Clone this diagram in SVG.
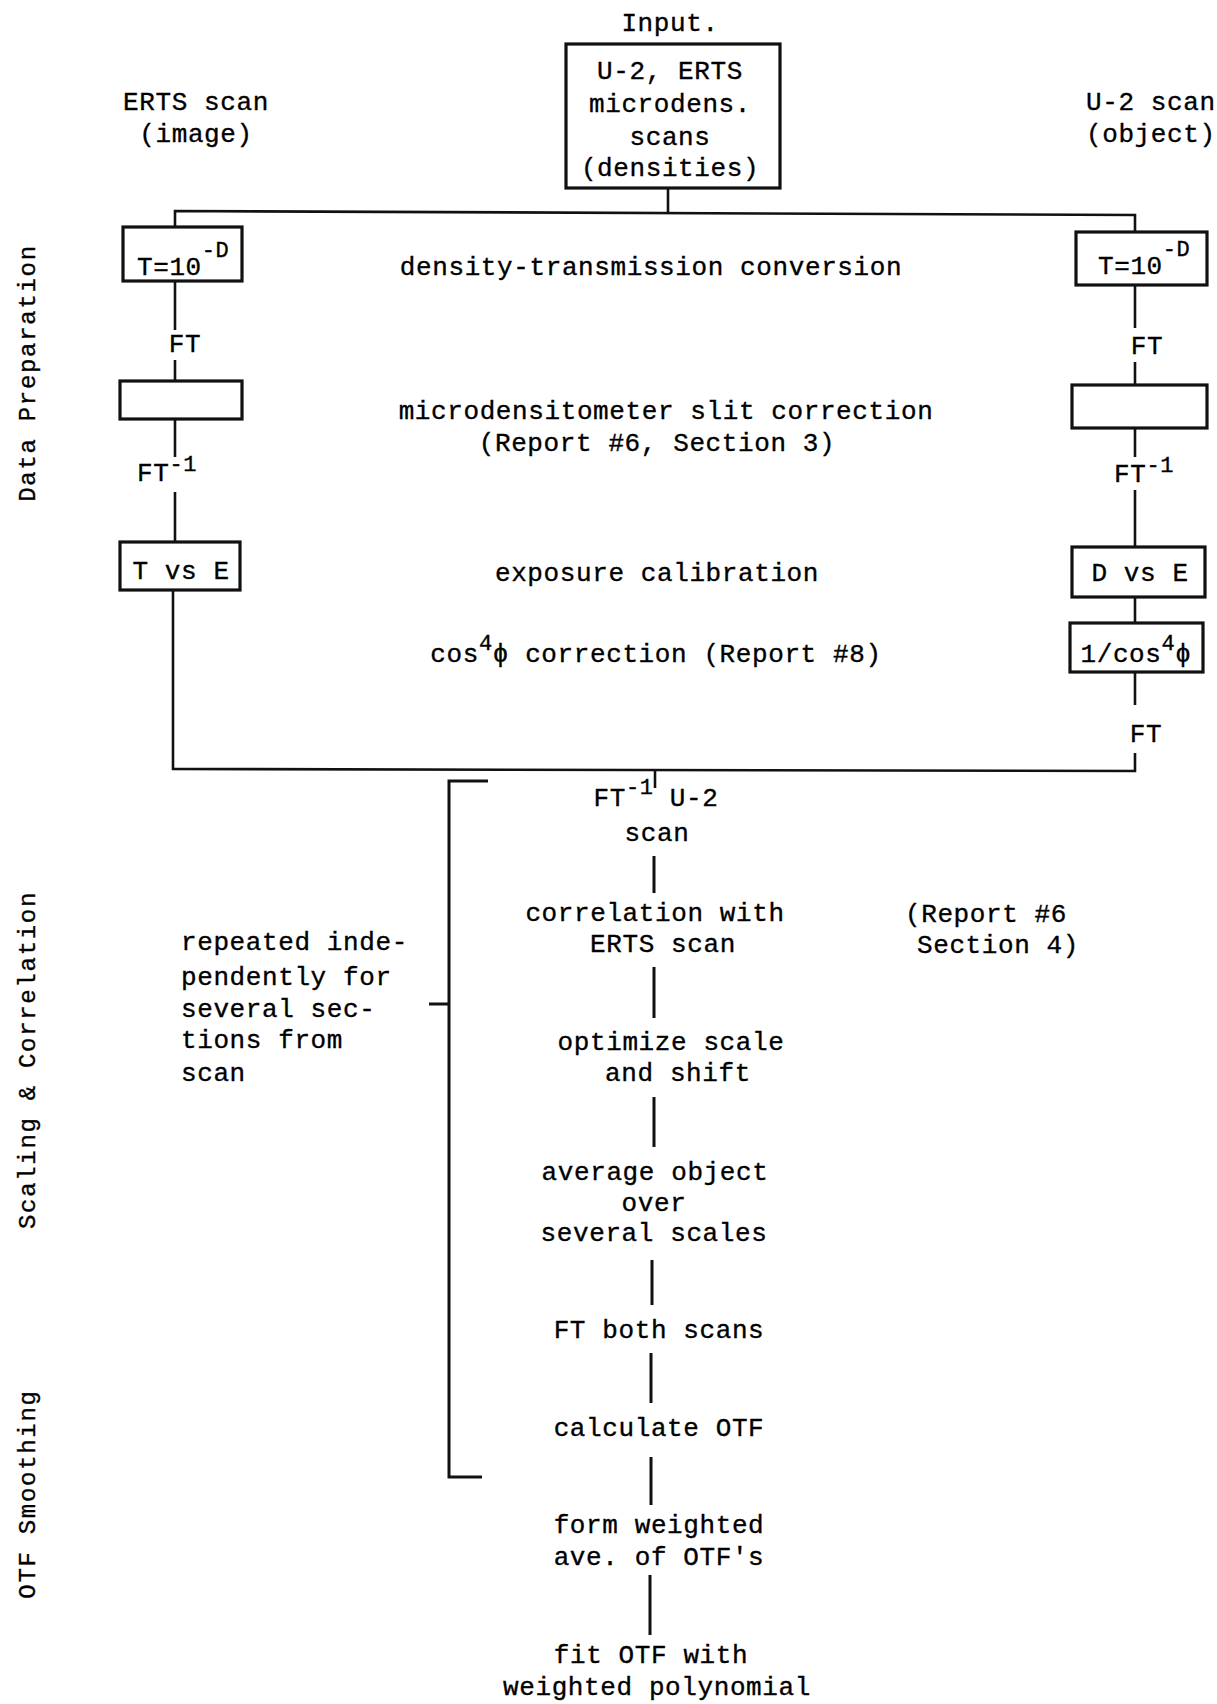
<svg xmlns="http://www.w3.org/2000/svg" width="1217" height="1704" viewBox="0 0 1217 1704">
<style>
text{font-family:"Liberation Mono","DejaVu Sans Mono",monospace;font-size:26px;letter-spacing:0.6px;fill:#000;stroke:#000;stroke-width:0.35}
.m{text-anchor:middle}
.sup{font-size:22px}
.side{font-size:24px;letter-spacing:1.7px;text-anchor:middle}
.box{fill:none;stroke:#111;stroke-width:3.2}
.ln{fill:none;stroke:#111;stroke-width:2.6}
.fl{fill:none;stroke:#111;stroke-width:3}
</style>
<rect width="1217" height="1704" fill="#fff"/>
<g id="side-labels">
<text class="side" transform="translate(35,373) rotate(-90)">Data Preparation</text>
<text class="side" transform="translate(35,1060) rotate(-90)">Scaling &amp; Correlation</text>
<text class="side" transform="translate(35,1494) rotate(-90)">OTF Smoothing</text>
</g>
<g id="connectors">
<path class="ln" d="M668,188 V212"/>
<path class="ln" d="M175,227 V211 L1135,215 V232"/>
<path class="ln" d="M175,281 V330 M175,360 V381 M175,419 V457 M175,492 V542 M173,590 V769 L1135,771 V753"/>
<path class="ln" d="M1135,285 V328 M1135,362 V385 M1135,428 V457 M1135,490 V547 M1135,597 V623 M1135,672 V705"/>
<path class="ln" d="M655,771 V788"/>
<path class="fl" d="M654,856 V893 M654,967 V1018 M654,1097 V1147 M652,1260 V1305 M651,1353 V1403 M651,1457 V1505 M650,1575 V1635"/>
<path class="fl" stroke-width="3.6" d="M488,781 H449 V1477 H482 M429,1004 H449"/>
</g>
<g id="input">
<text class="m" x="670" y="31">Input.</text>
<rect class="box" x="566" y="44" width="214" height="144"/>
<text class="m" x="670" y="79">U-2, ERTS</text>
<text class="m" x="670" y="112">microdens.</text>
<text class="m" x="670" y="145">scans</text>
<text class="m" x="670" y="176">(densities)</text>
</g>
<g id="erts-label">
<text class="m" x="196" y="110">ERTS scan</text>
<text class="m" x="196" y="142">(image)</text>
</g>
<g id="u2-label">
<text x="1086" y="110">U-2 scan</text>
<text x="1086" y="142">(object)</text>
</g>
<g id="left-t">
<rect class="box" x="123" y="227" width="119" height="54"/>
<text x="137" y="275">T=10<tspan class="sup" dy="-18">-D</tspan></text>
</g>
<g id="right-t">
<rect class="box" x="1076" y="232" width="131" height="53"/>
<text x="1098" y="274">T=10<tspan class="sup" dy="-18">-D</tspan></text>
</g>
<g id="density-label"><text class="m" x="651" y="275">density-transmission conversion</text></g>
<g id="left-ft1"><text class="m" x="185" y="352">FT</text></g>
<g id="right-ft1"><text class="m" x="1147" y="354">FT</text></g>
<g id="left-slit"><rect class="box" x="120" y="381" width="122" height="38"/></g>
<g id="right-slit"><rect class="box" x="1072" y="385" width="135" height="43"/></g>
<g id="slit-label">
<text class="m" x="666" y="419">microdensitometer slit correction</text>
<text class="m" x="657" y="451">(Report #6, Section 3)</text>
</g>
<g id="left-ftinv"><text x="137" y="481">FT<tspan class="sup" dy="-10">-1</tspan></text></g>
<g id="right-ftinv"><text x="1114" y="482">FT<tspan class="sup" dy="-10">-1</tspan></text></g>
<g id="left-tve">
<rect class="box" x="120" y="542" width="120" height="48"/>
<text class="m" x="181" y="579">T vs E</text>
</g>
<g id="right-dve">
<rect class="box" x="1072" y="547" width="133" height="50"/>
<text class="m" x="1140" y="581">D vs E</text>
</g>
<g id="exposure-label"><text class="m" x="657" y="581">exposure calibration</text></g>
<g id="cos-label"><text class="m" x="656" y="662">cos<tspan class="sup" dy="-12">4</tspan><tspan dy="12">ϕ correction (Report #8)</tspan></text></g>
<g id="right-cos">
<rect class="box" x="1070" y="623" width="133" height="49"/>
<text class="m" x="1136" y="662">1/cos<tspan class="sup" dy="-12">4</tspan><tspan dy="12">ϕ</tspan></text>
</g>
<g id="right-ft2"><text class="m" x="1146" y="742">FT</text></g>
<g id="ftinv-u2">
<text class="m" x="656" y="806">FT<tspan class="sup" dy="-12">-1</tspan><tspan dy="12"> U-2</tspan></text>
<text class="m" x="657" y="841">scan</text>
</g>
<g id="correlation">
<text class="m" x="655" y="921">correlation with</text>
<text class="m" x="663" y="952">ERTS scan</text>
</g>
<g id="report6-4">
<text x="905" y="922">(Report #6</text>
<text x="917" y="953">Section 4)</text>
</g>
<g id="repeated">
<text x="181" y="950">repeated inde-</text>
<text x="181" y="985">pendently for</text>
<text x="181" y="1017">several sec-</text>
<text x="181" y="1048">tions from</text>
<text x="181" y="1081">scan</text>
</g>
<g id="optimize">
<text class="m" x="671" y="1050">optimize scale</text>
<text class="m" x="678" y="1081">and shift</text>
</g>
<g id="average">
<text class="m" x="655" y="1180">average object</text>
<text class="m" x="654" y="1211">over</text>
<text class="m" x="654" y="1241">several scales</text>
</g>
<g id="ft-both"><text class="m" x="659" y="1338">FT both scans</text></g>
<g id="calc-otf"><text class="m" x="659" y="1436">calculate OTF</text></g>
<g id="form-weighted">
<text class="m" x="659" y="1533">form weighted</text>
<text class="m" x="659" y="1565">ave. of OTF's</text>
</g>
<g id="fit-otf">
<text class="m" x="651" y="1663">fit OTF with</text>
<text class="m" x="657" y="1695">weighted polynomial</text>
</g>
</svg>
